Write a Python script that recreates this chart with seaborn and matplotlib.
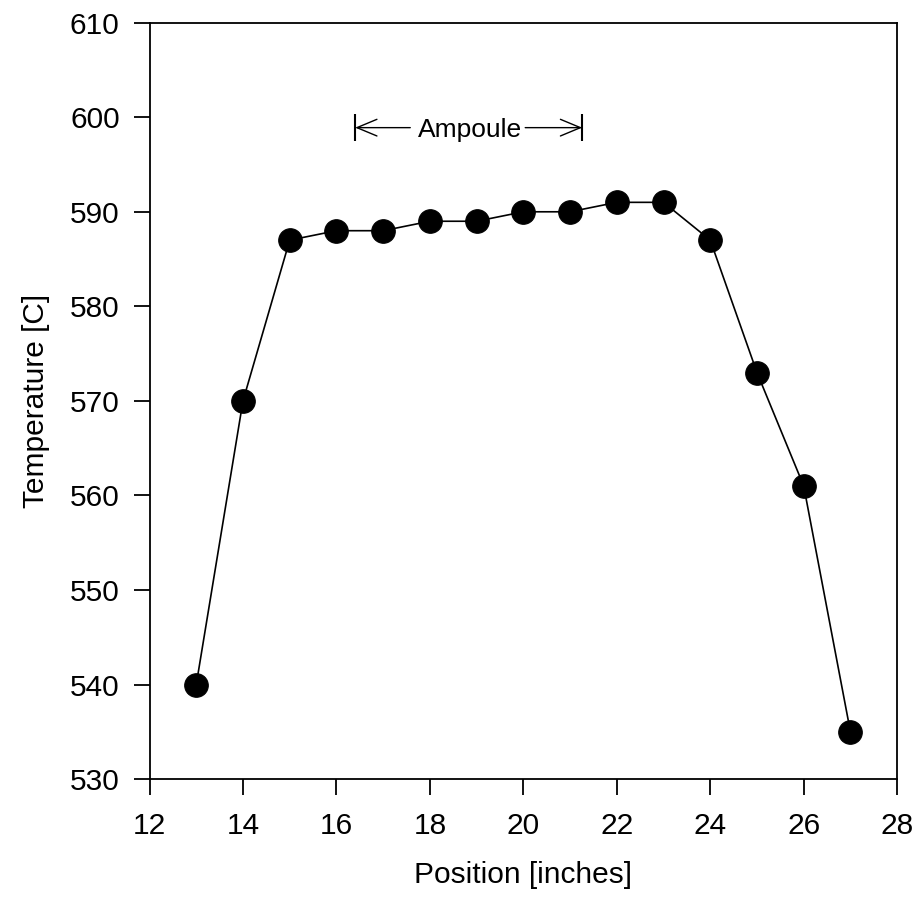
import matplotlib
matplotlib.use("Agg")
import matplotlib.pyplot as plt
import seaborn as sns
import pandas as pd

position = [13, 14, 15, 16, 17, 18, 19, 20, 21, 22, 23, 24, 25, 26, 27]
temperature = [540, 570, 587, 588, 588, 589, 589, 590, 590, 591, 591, 587, 573, 561, 535]
ampoule_start = 16.40
ampoule_end = 21.26
ampoule_y = 598.9

sns.set_style("ticks")
plt.rcParams['font.family'] = ['Liberation Sans', 'DejaVu Sans']

df = pd.DataFrame({"Position": position, "Temperature": temperature})

fig = plt.figure(figsize=(9.23, 9.08), dpi=100)
ax = fig.add_axes([0.162, 0.142, 0.81, 0.833])
sns.lineplot(data=df, x="Position", y="Temperature", color="black", linewidth=1.2,
             marker="o", markersize=17, markerfacecolor="black", markeredgecolor="black", ax=ax)

ax.set_xlim(12, 28)
ax.set_ylim(530, 610)
ax.set_xticks(range(12, 29, 2))
ax.set_yticks(range(530, 611, 10))
for s in ax.spines.values():
    s.set_linewidth(1.3)
    s.set_color("black")
ax.tick_params(direction="out", length=11.5, width=1.3, labelsize=21.5, colors="black")
ax.tick_params(axis="x", pad=12)
ax.tick_params(axis="y", pad=10)
ax.set_xlabel("Position [inches]", fontsize=21.5, labelpad=15, color="black")
ax.set_ylabel("Temperature [C]", fontsize=21.5, labelpad=14, color="black")

# Ampoule span marker
ax.text(18.85, ampoule_y - 0.2, "Ampoule", ha="center", va="center", fontsize=19, color="black")
arrow = "->, head_length=0.6, head_width=0.25"
ax.annotate("", xy=(ampoule_start, ampoule_y), xytext=(17.58, ampoule_y),
            arrowprops=dict(arrowstyle=arrow, color="black", lw=1, mutation_scale=24,
                            shrinkA=0, shrinkB=0))
ax.annotate("", xy=(ampoule_end, ampoule_y), xytext=(20.04, ampoule_y),
            arrowprops=dict(arrowstyle=arrow, color="black", lw=1, mutation_scale=24,
                            shrinkA=0, shrinkB=0))
ax.vlines([ampoule_start, ampoule_end], ampoule_y - 1.45, ampoule_y + 1.45, color="black", lw=1.5)

fig.savefig("out.png", dpi=100)
